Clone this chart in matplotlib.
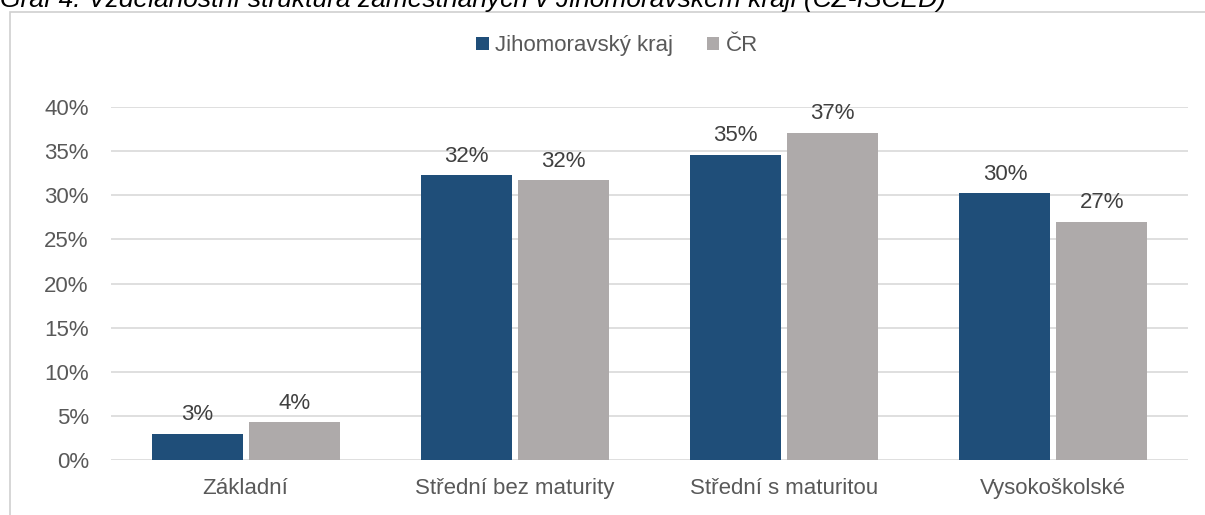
import numpy as np
import matplotlib.pyplot as plt
from matplotlib.patches import Rectangle

plt.rcParams['font.family'] = ['Liberation Sans', 'DejaVu Sans']

categories = ["Základní", "Střední bez maturity", "Střední s maturitou", "Vysokoškolské"]
jmk = [3.0, 32.3, 34.6, 30.2]
cr = [4.3, 31.7, 37.1, 27.0]
jmk_labels = ["3%", "32%", "35%", "30%"]
cr_labels = ["4%", "32%", "37%", "27%"]
series_names = ["Jihomoravský kraj", "ČR"]

blue = "#1f4e79"
gray = "#aeaaaa"
text_col = "#595959"

fig = plt.figure(figsize=(12.05, 5.15), dpi=100)
ax = fig.add_axes([0.0921, 0.1068, 0.8938, 0.6854])

x = np.arange(len(categories))
w = 0.338
off = 0.18
b1 = ax.bar(x - off, jmk, w, color=blue, label=series_names[0], zorder=3)
b2 = ax.bar(x + off, cr, w, color=gray, label=series_names[1], zorder=3)

for bars, labels in ((b1, jmk_labels), (b2, cr_labels)):
    for rect, lab in zip(bars, labels):
        ax.annotate(lab, (rect.get_x() + rect.get_width() / 2, rect.get_height()),
                    xytext=(0, 6), textcoords="offset points", ha="center", va="bottom",
                    fontsize=16, color="#404040")

ax.set_xlim(-0.5, 3.5)
ax.set_ylim(0, 40)
ax.set_yticks(np.arange(0, 41, 5))
ax.set_yticklabels([f"{v}%" for v in range(0, 41, 5)])
ax.set_xticks(x)
ax.set_xticklabels(categories)
ax.tick_params(axis="both", length=0, labelsize=16, labelcolor=text_col)
ax.tick_params(axis="y", pad=16)
ax.tick_params(axis="x", pad=13)
ax.grid(axis="y", color="#d9d9d9", linewidth=1.2, zorder=0)
for s in ax.spines.values():
    s.set_visible(False)

leg = fig.legend(loc="center", bbox_to_anchor=(0.512, 0.911), ncol=2, frameon=False,
                 fontsize=16, handlelength=0.55, handleheight=0.55, handletextpad=0.3,
                 columnspacing=1.5, labelcolor=text_col)

# chart frame
fig.patches.append(Rectangle((0.008, -0.01), 1.0, 0.987, transform=fig.transFigure,
                             fill=False, edgecolor="#d0d0d0", linewidth=1.2))

fig.text(0.0, 1.0, "Graf 4: Vzdělanostní struktura zaměstnaných v Jihomoravském kraji (CZ-ISCED)",
         fontsize=19, style="italic", color="#000000", ha="left", va="center")

fig.savefig("out.png", dpi=100)
